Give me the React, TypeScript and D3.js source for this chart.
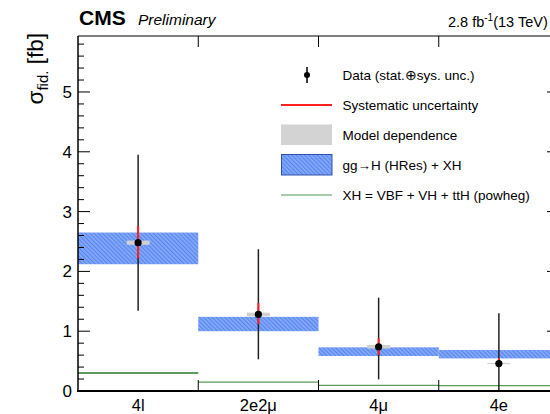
import React from "react";
import * as d3 from "d3";

const categories = ["4l", "2e2μ", "4μ", "4e"];
const dataValue = [2.48, 1.28, 0.74, 0.46];
const totalUp = [3.95, 2.37, 1.56, 1.30];
const totalDown = [1.34, 0.53, 0.195, 0.0];
const sysUp = [2.76, 1.47, 0.88, 0.55];
const sysDown = [2.22, 1.12, 0.60, 0.40];
const modelUp = [2.51, 1.31, 0.77, 0.47];
const modelDown = [2.44, 1.25, 0.71, 0.455];
const ggHUp = [2.65, 1.24, 0.73, 0.685];
const ggHDown = [2.12, 1.0, 0.585, 0.545];
const xhValue = [0.30, 0.15, 0.095, 0.09];
const yTicks = [0, 1, 2, 3, 4, 5];

const W = 550, H = 414;
const left = 78, right = 559, top = 36, bottom = 391;
const FONT = "'Liberation Sans', Arial, Helvetica, sans-serif";

export default function App() {
  const x = d3.scaleBand<string>().domain(categories).range([left, right]).padding(0);
  const y = d3.scaleLinear().domain([0, 5.936]).range([bottom, top]);
  const bw = x.bandwidth();
  const minor = d3.range(0, 5.94, 0.2);
  const edges = categories.slice(1).map((c) => x(c)!);

  const legendRows = [
    "Data (stat.⊕sys. unc.)",
    "Systematic uncertainty",
    "Model dependence",
    "gg→H (HRes) + XH",
    "XH = VBF + VH + ttH (powheg)",
  ];
  const ly = (i: number) => 75 + i * 30;

  return (
    <svg width={W} height={H} style={{ position: "absolute", left: 0, top: 0, background: "#fff" }} fontFamily={FONT}>
      <defs>
        <pattern id="hatch" width="3" height="3" patternUnits="userSpaceOnUse" patternTransform="rotate(-45)">
          <rect width="3" height="3" fill="#86a9f8" />
          <rect width="1.2" height="3" fill="#5686f2" />
        </pattern>
      </defs>
      <rect width={W} height={H} fill="#fff" />

      {/* ggH boxes */}
      {categories.map((c, i) => (
        <rect key={"gg" + i} x={x(c)!} y={y(ggHUp[i])} width={bw} height={y(ggHDown[i]) - y(ggHUp[i])} fill="url(#hatch)" />
      ))}
      {/* XH lines */}
      {categories.map((c, i) => (
        <line key={"xh" + i} x1={x(c)!} x2={x(c)! + bw} y1={y(xhValue[i])} y2={y(xhValue[i])} stroke={i === 0 ? "#2a7a2a" : "#5a9a5a"} strokeWidth={i === 0 ? 1.6 : 1.2} />
      ))}
      {/* model dependence */}
      {categories.map((c, i) => {
        const cx = x(c)! + bw / 2;
        const h = Math.max(y(modelDown[i]) - y(modelUp[i]), 1.2);
        return <rect key={"md" + i} x={cx - 11.5} y={y(dataValue[i]) - h / 2} width={23} height={h} fill="#d0d0d0" />;
      })}
      {/* total error */}
      {categories.map((c, i) => {
        const cx = x(c)! + bw / 2;
        return <line key={"te" + i} x1={cx} x2={cx} y1={y(totalUp[i])} y2={y(totalDown[i])} stroke="#222" strokeWidth={1.5} />;
      })}
      {/* sys error */}
      {categories.map((c, i) => {
        const cx = x(c)! + bw / 2;
        return <line key={"se" + i} x1={cx} x2={cx} y1={y(sysUp[i])} y2={y(sysDown[i])} stroke="#ff2020" strokeWidth={2} />;
      })}
      {/* points */}
      {categories.map((c, i) => (
        <circle key={"pt" + i} cx={x(c)! + bw / 2} cy={y(dataValue[i])} r={3.6} fill="#000" />
      ))}

      {/* frame */}
      <line x1={left} x2={left} y1={top} y2={bottom} stroke="#000" strokeWidth={1.5} />
      <line x1={left} x2={right} y1={top} y2={top} stroke="#000" strokeWidth={1} />
      <line x1={right} x2={right} y1={top} y2={bottom} stroke="#000" strokeWidth={1} />
      <line x1={left - 1} x2={right} y1={bottom} y2={bottom} stroke="#000" strokeWidth={2.2} />

      {/* y ticks */}
      {minor.map((v, i) => {
        const major = Math.abs(v - Math.round(v)) < 1e-6;
        const len = major ? 12 : 6;
        return (
          <g key={"yt" + i}>
            <line x1={left} x2={left + len} y1={y(v)} y2={y(v)} stroke="#000" strokeWidth={1} />
            <line x1={right} x2={right - len} y1={y(v)} y2={y(v)} stroke="#000" strokeWidth={1} />
          </g>
        );
      })}
      {yTicks.map((v) => (
        <text key={"yl" + v} x={72} y={y(v) + 6} textAnchor="end" fontSize={17}>{v}</text>
      ))}

      {/* x ticks at bin edges */}
      {edges.map((e, i) => (
        <g key={"xt" + i}>
          <line x1={e} x2={e} y1={bottom} y2={bottom - 11} stroke="#000" strokeWidth={1} />
          <line x1={e} x2={e} y1={top} y2={top + 11} stroke="#000" strokeWidth={1} />
        </g>
      ))}
      {categories.map((c) => (
        <text key={"xl" + c} x={x(c)! + bw / 2} y={411} textAnchor="middle" fontSize={16.5}>{c}</text>
      ))}

      {/* y title */}
      <text transform={`translate(43,33) rotate(-90)`} textAnchor="end" fontSize={22.5}>
        σ<tspan fontSize={15} dy={5}>fid.</tspan><tspan dy={-5}> [fb]</tspan>
      </text>

      {/* header */}
      <text x={79} y={25} fontSize={21} fontWeight="bold">CMS</text>
      <text x={138} y={25} fontSize={15.5} fontStyle="italic">Preliminary</text>
      <text x={448} y={27} fontSize={14.5}>
        2.8 fb<tspan fontSize={10} dy={-6}>-1</tspan><tspan dy={6}>(13 TeV)</tspan>
      </text>

      {/* legend */}
      <g>
        <line x1={307} x2={307} y1={ly(0) - 8} y2={ly(0) + 8} stroke="#000" strokeWidth={1.5} />
        <circle cx={307} cy={ly(0)} r={3} fill="#000" />
        <line x1={281} x2={332} y1={ly(1)} y2={ly(1)} stroke="#ff2020" strokeWidth={2} />
        <rect x={281} y={ly(2) - 10.5} width={51} height={20.5} fill="#d3d3d3" />
        <rect x={281.5} y={ly(3) - 10.5} width={50.5} height={20.5} fill="url(#hatch)" stroke="#3050b0" strokeWidth={1} />
        <line x1={281} x2={332} y1={ly(4)} y2={ly(4)} stroke="#8abb8a" strokeWidth={1.3} />
        {legendRows.map((t, i) => (
          <text key={"lg" + i} x={342.5} y={ly(i) + 5} fontSize={13.5}>{t}</text>
        ))}
      </g>
    </svg>
  );
}
